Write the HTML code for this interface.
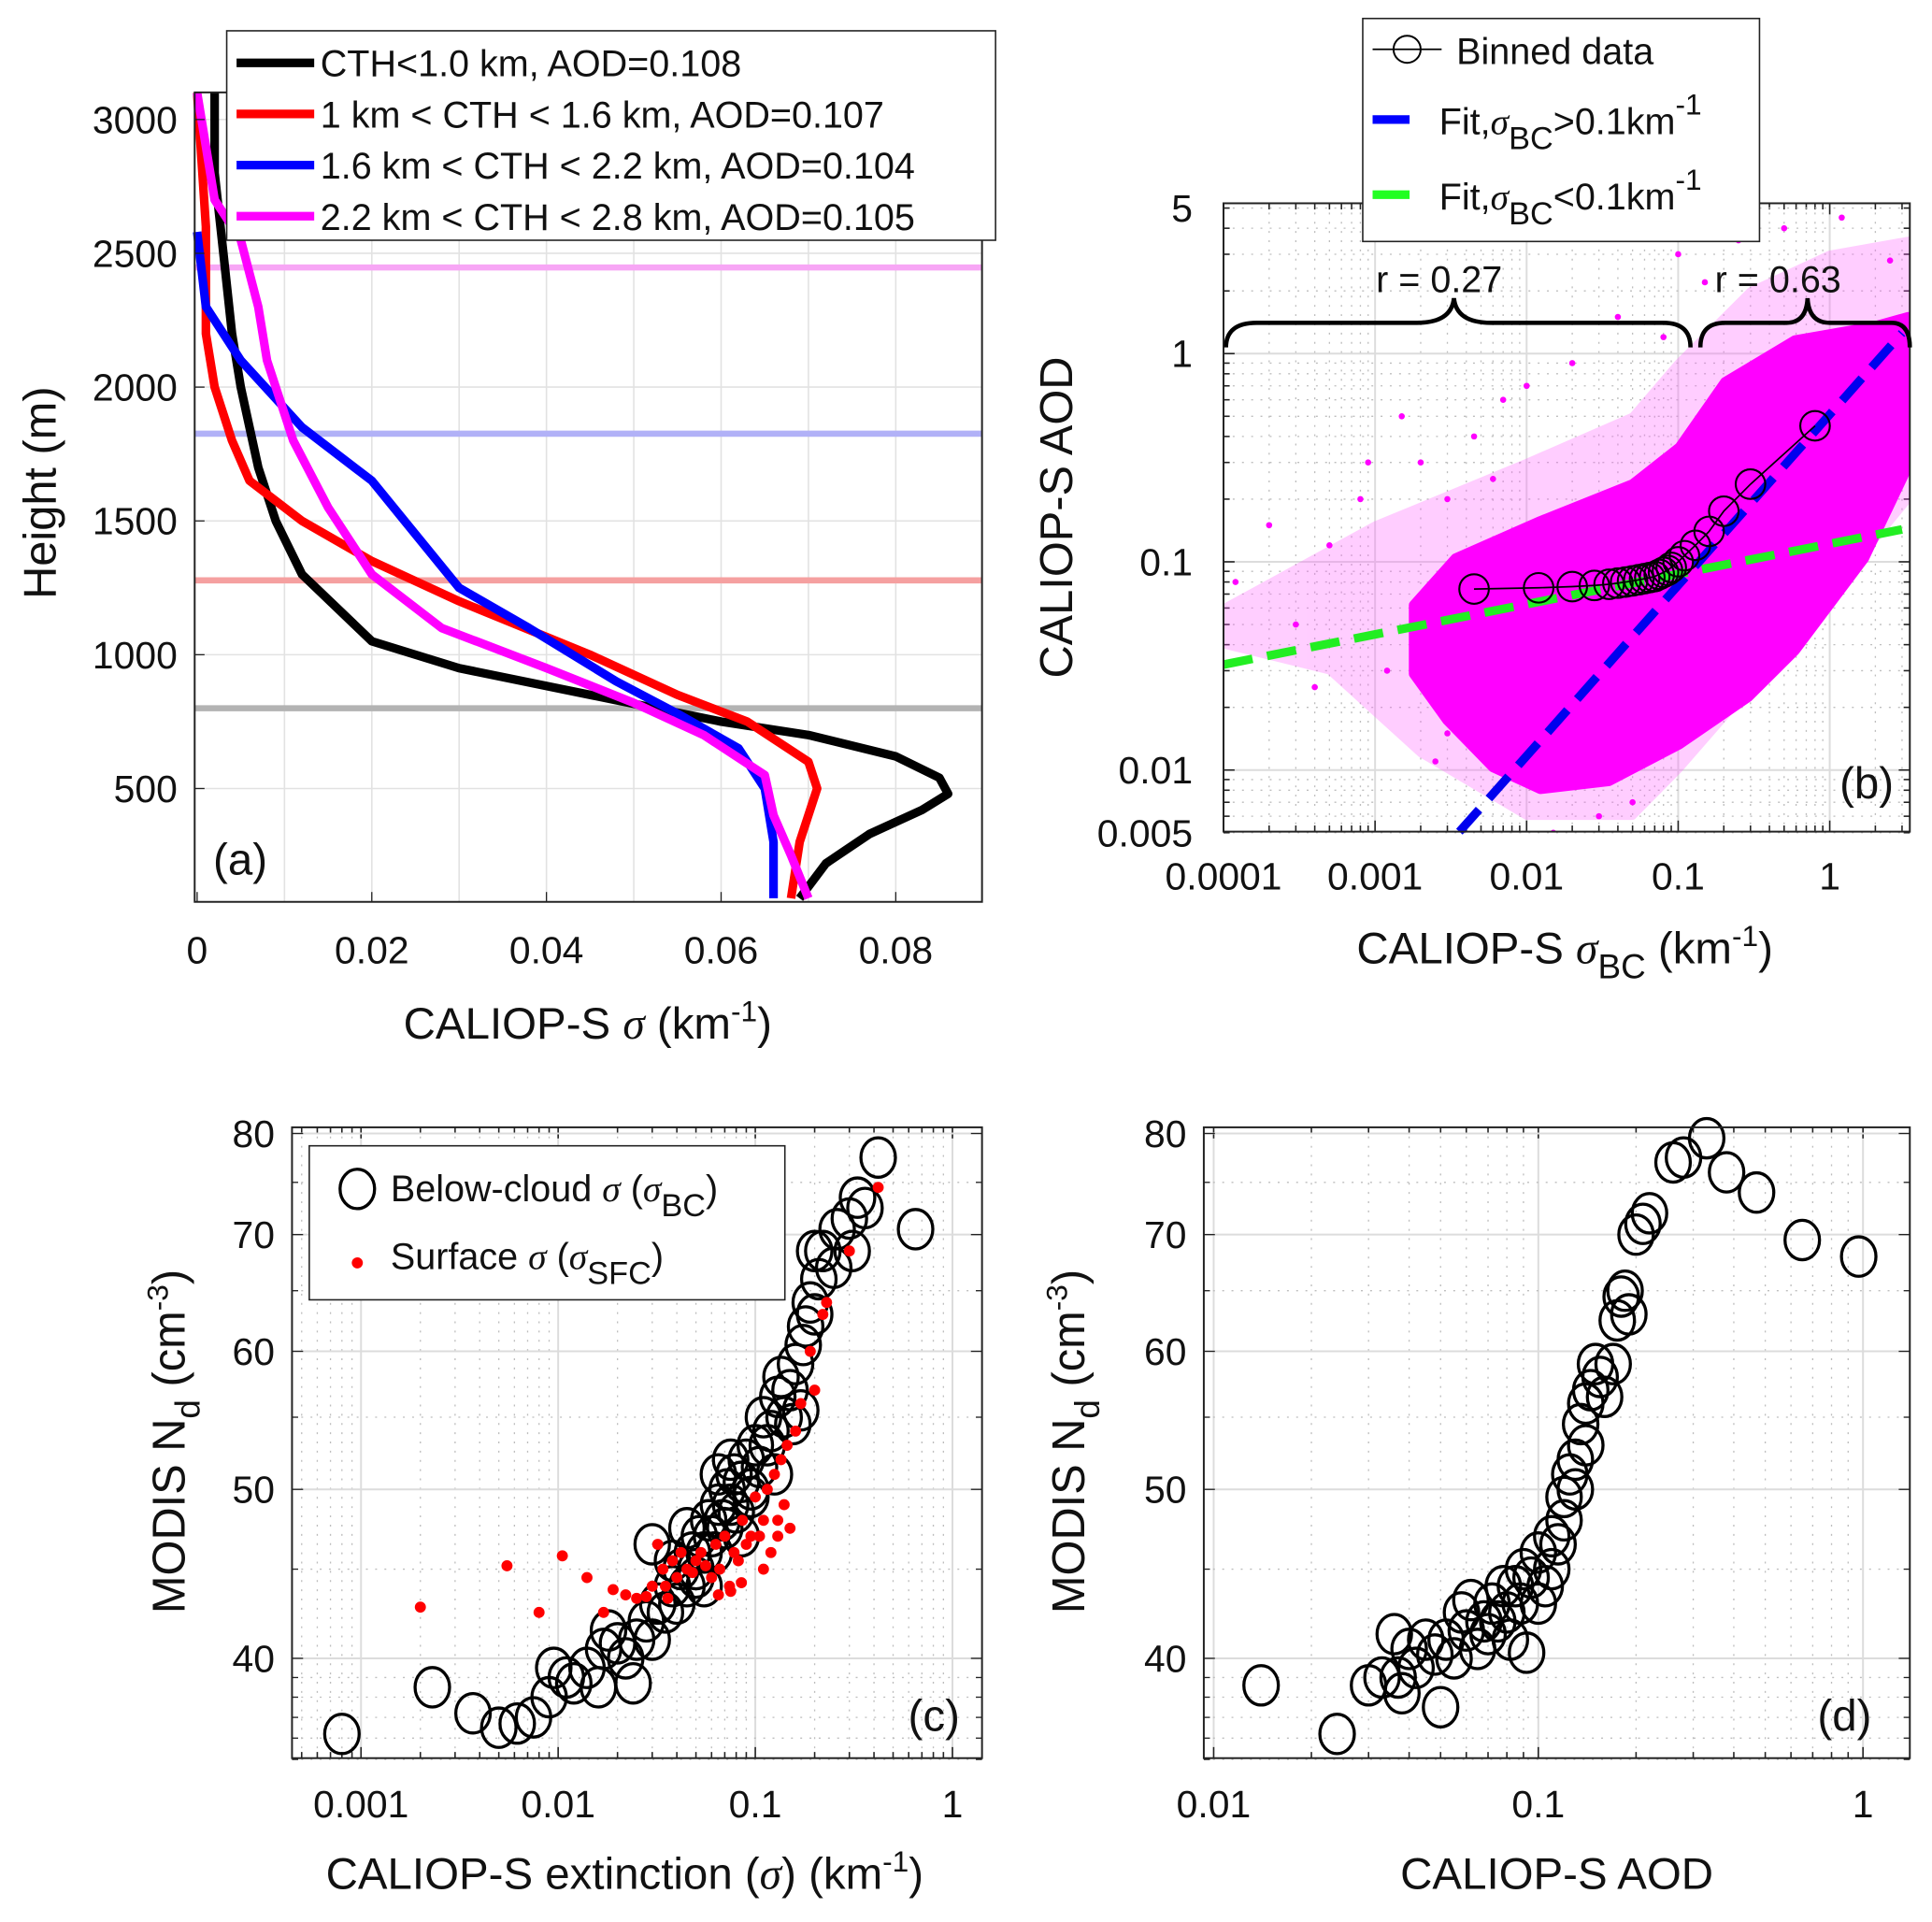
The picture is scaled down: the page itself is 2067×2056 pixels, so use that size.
<!DOCTYPE html>
<html><head><meta charset="utf-8"><style>
html,body{margin:0;padding:0;background:#fff;}
svg{display:block;font-family:"Liberation Sans",sans-serif;}
</style></head><body>
<svg id="fig" xmlns="http://www.w3.org/2000/svg" width="2067" height="2056" viewBox="0 0 1568 1560" preserveAspectRatio="none"></svg>
<script>
// ---------- Panel (a) data ----------
const aBlackX=[0.002,0.002,0.003,0.004,0.005,0.007,0.009,0.012,0.02,0.03,0.045,0.06,0.07,0.08,0.085,0.086,0.083,0.077,0.072,0.069];
const aBlackH=[3100,2800,2500,2200,2000,1700,1500,1300,1050,950,850,750,700,620,540,480,420,330,220,90];
const aRedX=[0.0,0.001,0.001,0.002,0.004,0.006,0.012,0.02,0.03,0.045,0.055,0.063,0.07,0.071,0.069,0.068];
const aRedH=[3100,2600,2200,2000,1800,1650,1500,1350,1200,1000,850,750,600,500,300,90];
const aBlueX=[0.0,0.001,0.005,0.012,0.02,0.025,0.03,0.038,0.048,0.055,0.062,0.065,0.066,0.066];
const aBlueH=[2580,2300,2100,1850,1650,1450,1250,1100,900,780,650,500,300,90];
const aMagX=[0.0,0.002,0.005,0.007,0.008,0.011,0.015,0.02,0.028,0.04,0.05,0.058,0.065,0.066,0.068,0.07];
const aMagH=[3100,2700,2550,2300,2100,1800,1550,1300,1100,950,820,700,550,400,250,90];
const aCthLines=[2447,1826,1278,800];
const aCthColors=['#f7a6f5','#b1b1f7','#f5a0a0','#b3b3b3'];
const aLegend=['CTH&lt;1.0 km, AOD=0.108','1 km &lt; CTH &lt; 1.6 km, AOD=0.107','1.6 km &lt; CTH &lt; 2.2 km, AOD=0.104','2.2 km &lt; CTH &lt; 2.8 km, AOD=0.105'];
const aXTicks=[0,0.02,0.04,0.06,0.08];
const aYTicks=[500,1000,1500,2000,2500,3000];
// ---------- Panel (b) data ----------
const bBinX=[0.0045,0.012,0.02,0.028,0.035,0.04,0.045,0.05,0.055,0.06,0.065,0.07,0.075,0.08,0.085,0.09,0.1,0.11,0.13,0.16,0.2,0.3,0.8];
const bBinY=[0.074,0.075,0.076,0.077,0.078,0.079,0.08,0.081,0.082,0.083,0.084,0.085,0.087,0.089,0.091,0.094,0.1,0.107,0.12,0.14,0.175,0.236,0.45];
const bCoreX=[0.0018,0.0034,0.0123,0.05,0.102,0.204,0.59,1.96,3.3,3.3,1.69,0.59,0.29,0.102,0.035,0.0123,0.006,0.003,0.0018];
const bCoreY=[0.062,0.104,0.157,0.236,0.355,0.73,1.16,1.35,1.5,0.29,0.104,0.0375,0.0224,0.0133,0.00885,0.0081,0.0103,0.0173,0.029];
const bHaloX=[0.0001,0.001,0.01,0.05,0.1,0.3,1,3.3,3.3,1,0.3,0.1,0.05,0.01,0.002,0.0005,0.0001];
const bHaloY=[0.06,0.15,0.3,0.5,0.9,2,3,3.5,0.2,0.07,0.025,0.01,0.006,0.006,0.012,0.03,0.04];
const bSparseX=[0.00012,0.0003,0.0005,0.0008,0.0012,0.002,0.003,0.0045,0.007,0.012,0.02,0.03,0.05,0.08,0.0002,0.0004,0.0015,0.0025,0.006,0.015,0.04,0.1,0.15,0.25,0.5,1.2,2.5,0.006,0.003,0.0009,0.02,0.01,0.035];
const bSparseY=[0.08,0.05,0.12,0.2,0.03,0.3,0.015,0.4,0.6,0.008,0.9,0.006,0.007,1.2,0.15,0.025,0.5,0.011,0.25,0.005,1.5,3,2.2,3.5,4,4.5,2.8,0.02,0.2,0.3,0.012,0.7,0.009];
const bBlueA=0.51, bBlueB=0.82, bGreenA=0.122, bGreenB=0.145;
const bXTicks=[0.0001,0.001,0.01,0.1,1];
const bXLabels=['0.0001','0.001','0.01','0.1','1'];
const bYTicks=[0.005,0.01,0.1,1,5];
const bYLabels=['0.005','0.01','0.1','1','5'];
// ---------- Panel (c) data ----------
const cCircX=[0.0008,0.0023,0.0037,0.005,0.0062,0.0075,0.009,0.0095,0.011,0.012,0.014,0.016,0.017,0.018,0.02,0.022,0.024,0.025,0.028,0.03,0.032,0.035,0.038,0.04,0.042,0.045,0.048,0.05,0.052,0.055,0.058,0.06,0.062,0.065,0.068,0.07,0.072,0.075,0.078,0.08,0.085,0.09,0.095,0.1,0.105,0.11,0.115,0.12,0.13,0.135,0.14,0.15,0.16,0.17,0.18,0.19,0.2,0.21,0.22,0.25,0.26,0.3,0.33,0.36,0.42,0.65,0.05,0.045,0.038,0.075,0.085,0.095,0.065,0.125,0.155,0.175,0.2,0.31,0.03,0.055];
const cCircY=[36.2,38.5,37.2,36.5,36.7,37,38,39.5,39,38.7,39.5,38.5,40.5,41.5,40.8,40,38.7,41,42,41,43,42.5,44,43,45,44,46,45,47,46,48,47,46,49,48,47.5,50,49,51,48.5,50.5,52,50,53,51.5,55,53,54,56.5,58,55,57,59,55.5,62,64,63,66,68.5,67,70.5,71.5,73.5,72.5,77.5,70.5,44.5,47.5,45.5,52,47,49.5,51,51,54.5,60.5,68.5,68.5,46.5,44];
const cRedX=[0.002,0.0055,0.008,0.0105,0.014,0.017,0.019,0.022,0.025,0.028,0.03,0.032,0.034,0.036,0.038,0.04,0.042,0.045,0.048,0.05,0.053,0.056,0.06,0.063,0.066,0.07,0.074,0.078,0.082,0.086,0.09,0.095,0.1,0.105,0.11,0.115,0.12,0.125,0.13,0.135,0.14,0.145,0.15,0.16,0.17,0.19,0.2,0.22,0.23,0.3,0.42,0.035,0.065,0.085,0.11,0.13,0.075];
const cRedY=[42.8,45.2,42.5,45.8,44.5,42.5,43.8,43.5,43.3,43.4,44,46.5,45,43.3,45.5,44.5,46,45,44.8,45.5,46,45.2,44.5,46.5,45,47,44,46,45.5,48,46.5,47,49.5,47,48,50,46,51,48,52,49,53,47.5,54,56,60,57,63,64,68.5,74.5,44,43.5,44.2,45,47,43.7];
const cXTicks=[0.001,0.01,0.1,1];
const cXLabels=['0.001','0.01','0.1','1'];
const cYTicks=[40,50,60,70,80];
// ---------- Panel (d) data ----------
const dCircX=[0.014,0.024,0.03,0.033,0.036,0.037,0.038,0.04,0.042,0.045,0.048,0.05,0.052,0.055,0.058,0.06,0.062,0.065,0.068,0.07,0.072,0.075,0.078,0.08,0.082,0.085,0.088,0.09,0.092,0.095,0.1,0.1,0.105,0.11,0.11,0.115,0.12,0.12,0.125,0.13,0.13,0.135,0.14,0.14,0.145,0.15,0.155,0.16,0.17,0.175,0.18,0.185,0.19,0.2,0.21,0.22,0.26,0.28,0.33,0.38,0.47,0.65,0.97];
const dCircY=[38.6,36.2,38.6,39,41.3,39,38.2,40.5,39.5,41,40.2,37.5,41,40,42.5,41.5,43.2,40.5,42,41.3,43,42,44,42.5,41,44,43,45,40.3,44.5,46,43,44,45,47,46.5,48,49.5,51,50,52,54.5,53,56,57,59,58,56.5,59,62.5,64.5,65,63,70,71,72,77,77.5,79.5,76,74,69.5,68];
const dXTicks=[0.01,0.1,1];
const dXLabels=['0.01','0.1','1'];
const dYTicks=[40,50,60,70,80];

const NS='http://www.w3.org/2000/svg';
const svg=document.getElementById('fig');
function el(tag,name,attrs,parent){
  const e=document.createElementNS(NS,tag);
  for(const k in attrs) e.setAttribute(k,attrs[k]);
  
  
  (parent||svg).appendChild(e);
  return e;
}
function txt(name,x,y,s,size,anchor,parent,extra){
  const t=el('text',name,Object.assign({x:x,y:y,'font-size':size,'text-anchor':anchor||'middle',fill:'#111'},extra||{}),parent);
  t.innerHTML=s;
  return t;
}
function linScale(d0,d1,p0,p1){return v=>p0+(v-d0)*(p1-p0)/(d1-d0);}
function logScale(d0,d1,p0,p1){return v=>p0+(Math.log10(v)-Math.log10(d0))*(p1-p0)/(Math.log10(d1)-Math.log10(d0));}
function minorLog(lo,hi){const r=[];for(let e=Math.floor(Math.log10(lo));e<=Math.ceil(Math.log10(hi));e++){for(let m=1;m<10;m++){const v=m*Math.pow(10,e);if(v>=lo&&v<=hi)r.push([v,m===1]);}}return r;}
function frame(g,x0,y0,x1,y1){el('rect','axes-frame',{x:x0,y:y0,width:x1-x0,height:y1-y0,fill:'none',stroke:'#222','stroke-width':1.5},g);}
function gridLog(g,vals,isX,sc,x0,y0,x1,y1){
  vals.forEach(([v,major])=>{
    const p=sc(v);
    const a=isX?{x1:p,x2:p,y1:y0,y2:y1}:{x1:x0,x2:x1,y1:p,y2:p};
    Object.assign(a,major?{stroke:'#dcdcdc','stroke-width':1.5}:{stroke:'#bdbdbd','stroke-width':1,'stroke-dasharray':'1.5 6'});
    el('line',isX?'x-grid-line':'y-grid-line',a,g);
    const tk=isX?[{x1:p,x2:p,y1:y1,y2:y1-(major?9:5)},{x1:p,x2:p,y1:y0,y2:y0+(major?9:5)}]:[{x1:x0,x2:x0+(major?9:5),y1:p,y2:p},{x1:x1,x2:x1-(major?9:5),y1:p,y2:p}];
    tk.forEach(t=>{t.stroke='#222';t['stroke-width']=1.2;el('line',isX?'x-tick':'y-tick',t,g);});
  });
}
function poly(xs,ys,sx,sy){return xs.map((v,i)=>sx(v).toFixed(1)+','+sy(ys[i]).toFixed(1)).join(' ');}

// ===== Panel A =====
(function(){
  const g=el('g','panel-a',{});
  const X0=158,X1=797,Y0=75,Y1=732;
  const sx=linScale(0,0.08,160,727), sy=linScale(500,3000,640,97);
  for(let v=0.01;v<0.09;v+=0.01){el('line','x-grid-line',{x1:sx(v),x2:sx(v),y1:Y0,y2:Y1,stroke:'#e2e2e2','stroke-width':1.2},g);}
  aYTicks.forEach(v=>{el('line','y-grid-line',{x1:X0,x2:X1,y1:sy(v),y2:sy(v),stroke:'#e2e2e2','stroke-width':1.2},g);});
  aCthLines.forEach((h,i)=>{el('line','cth-line',{x1:X0,x2:X1,y1:sy(h),y2:sy(h),stroke:aCthColors[i],'stroke-width':5},g);});
  const series=[[aBlackX,aBlackH,'#000'],[aRedX,aRedH,'#f00'],[aBlueX,aBlueH,'#00f'],[aMagX,aMagH,'#f0f']];
  const names=['profile-cth-lt-1km','profile-cth-1-1.6km','profile-cth-1.6-2.2km','profile-cth-2.2-2.8km'];
  series.forEach((s,i)=>{el('polyline',names[i],{points:poly(s[0],s[1],sx,sy),fill:'none',stroke:s[2],'stroke-width':7,'stroke-linejoin':'round'},g);});
  frame(g,X0,Y0,X1,Y1);
  aXTicks.forEach(v=>{el('line','x-tick',{x1:sx(v),x2:sx(v),y1:Y1,y2:Y1-8,stroke:'#222'},g);txt('x-tick-label',sx(v),782,String(v),31,'middle',g);});
  aYTicks.forEach(v=>{el('line','y-tick',{x1:X0,x2:X0+8,y1:sy(v),y2:sy(v),stroke:'#222'},g);txt('y-tick-label',144,sy(v)+11,String(v),31,'end',g);});
  txt('x-axis-title',477,843,'CALIOP-S <tspan font-style="italic" font-family="Liberation Serif">σ</tspan> (km<tspan dy="-14" font-size="24">-1</tspan><tspan dy="14">)</tspan>',36,'middle',g);
  txt('y-axis-title',0,0,'Height (m)',37,'middle',g,{transform:'translate(45,400) rotate(-90)'});
  txt('panel-label-a',195,710,'(a)',36,'middle',g);
  const lg=el('g','legend-a',{},g);
  el('rect','legend-box',{x:184,y:25,width:624,height:170,fill:'#fff',stroke:'#222','stroke-width':1.2},lg);
  ['#000','#f00','#00f','#f0f'].forEach((c,i)=>{
    const y=51+i*41.5;
    el('line','legend-swatch',{x1:192,x2:255,y1:y,y2:y,stroke:c,'stroke-width':7},lg);
    txt('legend-entry',260,y+11,aLegend[i],30,'start',lg);
  });
})();

// ===== Panel B =====
(function(){
  const g=el('g','panel-b',{});
  const X0=993,X1=1550,Y0=165,Y1=675;
  const sx=logScale(0.0001,1,993,1485), sy=logScale(0.1,1,456,287);
  const xmax=Math.pow(10,-4+(X1-993)/123), ymax=5.2;
  gridLog(g,minorLog(0.0001,xmax),true,sx,X0,Y0,X1,Y1);
  gridLog(g,minorLog(0.005,ymax),false,sy,X0,Y0,X1,Y1);
  const cp=el('clipPath','plot-clip',{id:'clipb'},g);
  el('rect','clip-rect',{x:X0,y:Y0,width:X1-X0,height:Y1-Y0},cp);
  const pg=el('g','scatter-group',{'clip-path':'url(#clipb)'},g);
  el('polygon','scatter-sparse-halo',{points:poly(bHaloX,bHaloY,sx,sy),fill:'#ff5cff',stroke:'#ff5cff','stroke-width':6,'stroke-linejoin':'round',opacity:0.3},pg);
  el('polygon','scatter-density-cloud',{points:poly(bCoreX,bCoreY,sx,sy),fill:'#ff00ff',stroke:'#ff00ff','stroke-width':8,'stroke-linejoin':'round'},pg);
  bSparseX.forEach((v,i)=>{el('circle','scatter-point',{cx:sx(v),cy:sy(bSparseY[i]),r:2.5,fill:'#f0f'},pg);});
  const gx=[0.0001,3], bx=[0.0036,3];
  el('line','fit-line-low',{x1:sx(gx[0]),y1:sy(bGreenA*Math.pow(gx[0],bGreenB)),x2:sx(gx[1]),y2:sy(bGreenA*Math.pow(gx[1],bGreenB)),stroke:'#22ee22','stroke-width':7,'stroke-dasharray':'24 12'},g);
  el('line','fit-line-high',{x1:sx(bx[0]),y1:sy(bBlueA*Math.pow(bx[0],bBlueB)),x2:sx(bx[1]),y2:sy(bBlueA*Math.pow(bx[1],bBlueB)),stroke:'#0000ee','stroke-width':7,'stroke-dasharray':'24 12'},g);
  el('polyline','binned-data-line',{points:poly(bBinX,bBinY,sx,sy),fill:'none',stroke:'#000','stroke-width':1.3},g);
  bBinX.forEach((v,i)=>{el('circle','binned-data-point',{cx:sx(v),cy:sy(bBinY[i]),r:12,fill:'none',stroke:'#000','stroke-width':1.6},g);});
  frame(g,X0,Y0,X1,Y1);
  bXTicks.forEach((v,i)=>txt('x-tick-label',sx(v),722,bXLabels[i],31,'middle',g));
  bYTicks.forEach((v,i)=>txt('y-tick-label',968,sy(v)+11,bYLabels[i],31,'end',g));
  txt('x-axis-title',1270,782,'CALIOP-S <tspan font-style="italic" font-family="Liberation Serif">σ</tspan><tspan dy="12" font-size="28">BC</tspan><tspan dy="-12"> (km</tspan><tspan dy="-14" font-size="24">-1</tspan><tspan dy="14">)</tspan>',36,'middle',g);
  txt('y-axis-title',0,0,'CALIOP-S AOD',37,'middle',g,{transform:'translate(870,420) rotate(-90)'});
  txt('panel-label-b',1515,648,'(b)',36,'middle',g);
  el('path','brace-low-sigma',{d:'M995,282 Q995,262 1020,262 L1150,262 Q1178,262 1180,242 Q1182,262 1210,262 L1350,262 Q1372,262 1372,282',fill:'none',stroke:'#000','stroke-width':3.5},g);
  el('path','brace-high-sigma',{d:'M1380,282 Q1380,262 1400,262 L1450,262 Q1466,262 1467,242 Q1468,262 1485,262 L1535,262 Q1550,262 1550,282',fill:'none',stroke:'#000','stroke-width':3.5},g);
  txt('correlation-label-low',1168,237,'r = 0.27',30,'middle',g);
  txt('correlation-label-high',1443,237,'r = 0.63',30,'middle',g);
  const lg=el('g','legend-b',{},g);
  el('rect','legend-box',{x:1106,y:15,width:322,height:181,fill:'#fff',stroke:'#222','stroke-width':1.2},lg);
  el('line','legend-swatch',{x1:1114,x2:1170,y1:40,y2:40,stroke:'#000','stroke-width':1.3},lg);
  el('circle','legend-swatch',{cx:1142,cy:40,r:11,fill:'none',stroke:'#000','stroke-width':1.5},lg);
  txt('legend-entry',1182,52,'Binned data',30,'start',lg);
  el('line','legend-swatch',{x1:1114,x2:1144,y1:97,y2:97,stroke:'#00f','stroke-width':7},lg);
  txt('legend-entry',1168,109,'Fit,<tspan font-style="italic" font-family="Liberation Serif">σ</tspan><tspan dy="12" font-size="26">BC</tspan><tspan dy="-12">&gt;0.1km</tspan><tspan dy="-16" font-size="24">-1</tspan>',30,'start',lg);
  el('line','legend-swatch',{x1:1114,x2:1144,y1:158,y2:158,stroke:'#2f2','stroke-width':7},lg);
  txt('legend-entry',1168,170,'Fit,<tspan font-style="italic" font-family="Liberation Serif">σ</tspan><tspan dy="12" font-size="26">BC</tspan><tspan dy="-12">&lt;0.1km</tspan><tspan dy="-16" font-size="24">-1</tspan>',30,'start',lg);
})();

// ===== Panel C & D =====
function ndPanel(id,X0,X1,sx,xlo,xhi,circX,circY,xt,xl,xtitle,ytitleX,plabelX){
  const Y0=915,Y1=1427;
  const g=el('g',id,{});
  const sy=logScale(40,80,1346,920);
  gridLog(g,minorLog(xlo,xhi),true,sx,X0,Y0,X1,Y1);
  [35,36,37,38,39,45,55,65,75].forEach(v=>{const p=sy(v);el('line','y-minor-grid',{x1:X0,x2:X1,y1:p,y2:p,stroke:'#bdbdbd','stroke-width':1,'stroke-dasharray':'1.5 6'},g);el('line','y-tick',{x1:X0,x2:X0+5,y1:p,y2:p,stroke:'#222'},g);el('line','y-tick',{x1:X1,x2:X1-5,y1:p,y2:p,stroke:'#222'},g);});
  cYTicks.forEach(v=>{const p=sy(v);el('line','y-grid-line',{x1:X0,x2:X1,y1:p,y2:p,stroke:'#dcdcdc','stroke-width':1.5},g);el('line','y-tick',{x1:X0,x2:X0+9,y1:p,y2:p,stroke:'#222'},g);el('line','y-tick',{x1:X1,x2:X1-9,y1:p,y2:p,stroke:'#222'},g);txt('y-tick-label',X0-14,p+11,String(v),31,'end',g);});
  circX.forEach((v,i)=>{el('ellipse','nd-circle-point',{cx:sx(v),cy:sy(circY[i]),rx:14,ry:16,fill:'none',stroke:'#000','stroke-width':2.5},g);});
  frame(g,X0,Y0,X1,Y1);
  xt.forEach((v,i)=>txt('x-tick-label',sx(v),1475,xl[i],31,'middle',g));
  txt('x-axis-title',(X0+X1)/2+(id==='panel-c'?-10:0),1533,xtitle,36,'middle',g);
  txt('y-axis-title',0,0,'MODIS N<tspan dy="12" font-size="28">d</tspan><tspan dy="-12"> (cm</tspan><tspan dy="-14" font-size="24">-3</tspan><tspan dy="14">)</tspan>',37,'middle',g,{transform:'translate('+ytitleX+',1170) rotate(-90)'});
  txt('panel-label',plabelX,1405,id==='panel-c'?'(c)':'(d)',36,'middle',g);
  return {g,sx,sy};
}
(function(){
  const sx=logScale(0.001,1,293,773);
  const r=ndPanel('panel-c',237,797,sx,0.00045,1.5,cCircX,cCircY,cXTicks,cXLabels,'CALIOP-S extinction (<tspan font-style="italic" font-family="Liberation Serif">σ</tspan>) (km<tspan dy="-14" font-size="24">-1</tspan><tspan dy="14">)</tspan>',150,758);
  cRedX.forEach((v,i)=>{el('circle','surface-sigma-point',{cx:sx(v),cy:r.sy(cRedY[i]),r:4.5,fill:'#f00'},r.g);});
  const lg=el('g','legend-c',{},r.g);
  el('rect','legend-box',{x:251,y:930,width:386,height:125,fill:'#fff',stroke:'#222','stroke-width':1.2},lg);
  el('ellipse','legend-swatch',{cx:290,cy:965,rx:14,ry:16,fill:'none',stroke:'#000','stroke-width':2.5},lg);
  txt('legend-entry',317,975,'Below-cloud <tspan font-style="italic" font-family="Liberation Serif">σ</tspan> (<tspan font-style="italic" font-family="Liberation Serif">σ</tspan><tspan dy="12" font-size="26">BC</tspan><tspan dy="-12">)</tspan>',30,'start',lg);
  el('circle','legend-swatch',{cx:290,cy:1025,r:4.5,fill:'#f00'},lg);
  txt('legend-entry',317,1030,'Surface <tspan font-style="italic" font-family="Liberation Serif">σ</tspan> (<tspan font-style="italic" font-family="Liberation Serif">σ</tspan><tspan dy="12" font-size="26">SFC</tspan><tspan dy="-12">)</tspan>',30,'start',lg);
})();
(function(){
  const sx=logScale(0.01,1,985,1512);
  ndPanel('panel-d',977,1550,sx,0.01,1.25,dCircX,dCircY,dXTicks,dXLabels,'CALIOP-S AOD',880,1497);
})();
</script>
</body></html>
